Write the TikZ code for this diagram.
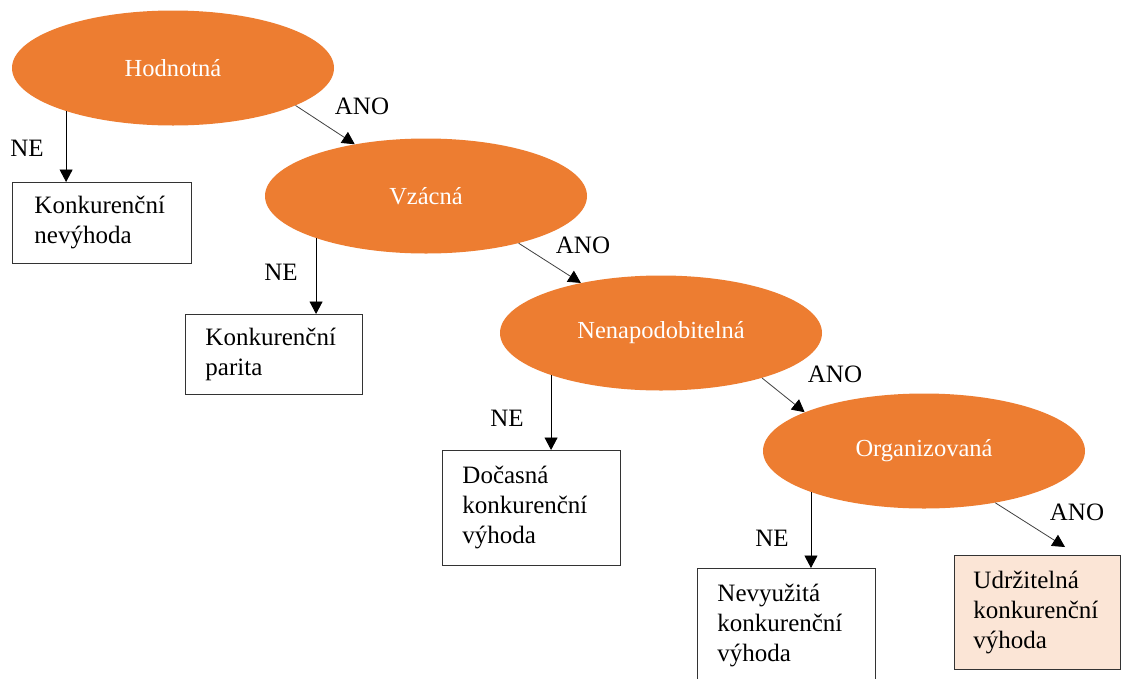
\documentclass[tikz,border=0pt]{standalone}
\usepackage{fontspec}
\setmainfont{Liberation Serif}
\usetikzlibrary{shapes.geometric,arrows.meta}
\definecolor{orangeF}{HTML}{ED7D31}
\definecolor{peach}{HTML}{FBE5D6}
\begin{document}
\begin{tikzpicture}[x=1pt,y=-1pt,
  crit/.style={ellipse, fill=orangeF, minimum width=322pt, minimum height=115pt, inner sep=0pt, text=white, font=\fontsize{24.5}{29}\selectfont},
  outbox/.style={draw=black!80, line width=0.9pt, anchor=north west, align=left, inner xsep=20pt, inner ysep=0pt, font=\fontsize{25}{30}\selectfont},
  lbl/.style={font=\fontsize{25}{30}\selectfont, inner sep=0pt},
  ne/.style={draw=black, line width=0.9pt, -{Triangle[length=12.5pt,width=13pt,color=black]}},
  ano/.style={draw=black!75, line width=0.8pt, -{Triangle[length=12.5pt,width=13pt,color=black]}}]
\clip (0,0) rectangle (1122,678);
\fill[white] (0,0) rectangle (1122,678);
% ellipses
\node[crit] (e1) at (173,68) {Hodnotná};
\node[crit] (e2) at (426,196) {Vzácná};
\node[crit] (e3) at (661,333) {Nenapodobitelná};
\node[crit] (e4) at (924,451) {Organizovaná};
% boxes
\node[outbox, inner xsep=22pt, text width=135pt, minimum height=81pt] (b1) at (12,182) {Konkurenční\\nevýhoda};
\node[outbox, text width=137pt, minimum height=80pt] (b2) at (185,314) {Konkurenční\\parita};
\node[outbox, text width=138pt, minimum height=115pt] (b3) at (442,450) {Dočasná\\konkurenční\\výhoda};
\node[outbox, text width=138pt, minimum height=115pt] (b4) at (697,568) {Nevyužitá\\konkurenční\\výhoda};
\node[outbox, fill=peach, inner xsep=19pt, text width=128pt, minimum height=114pt] (b5) at (954,555) {Udržitelná\\konkurenční\\výhoda};
% NE arrows
\draw[ne] (e1.-158.6) -- (e1.-158.6 |- b1.north);
\draw[ne] (e2.-159.6) -- (e2.-159.6 |- b2.north);
\draw[ne] (e3.-159.9) -- (e3.-159.9 |- b3.north);
\draw[ne] (e4.-160.5) -- (e4.-160.5 |- b4.north);
% ANO arrows
\draw[ano] (e1.-17.7) -- (e2.144.5);
\draw[ano] (e2.-27.5) -- (e3.148.7);
\draw[ano] (e3.-24.1) -- (e4.162.1);
\coordinate (t5) at (1065,547);
\draw[ano] (e4.-36.1) -- (t5);
% labels
\node[lbl] (n1) at (27,148) {NE};
\node[lbl] (a1) at (362,106) {ANO};
\node[lbl] (n2) at (281,272) {NE};
\node[lbl] (a2) at (583,245) {ANO};
\node[lbl] (n3) at (507,418) {NE};
\node[lbl] (a3) at (835,374) {ANO};
\node[lbl] (n4) at (772,538) {NE};
\node[lbl] (a4) at (1077,512) {ANO};
\end{tikzpicture}
\end{document}
